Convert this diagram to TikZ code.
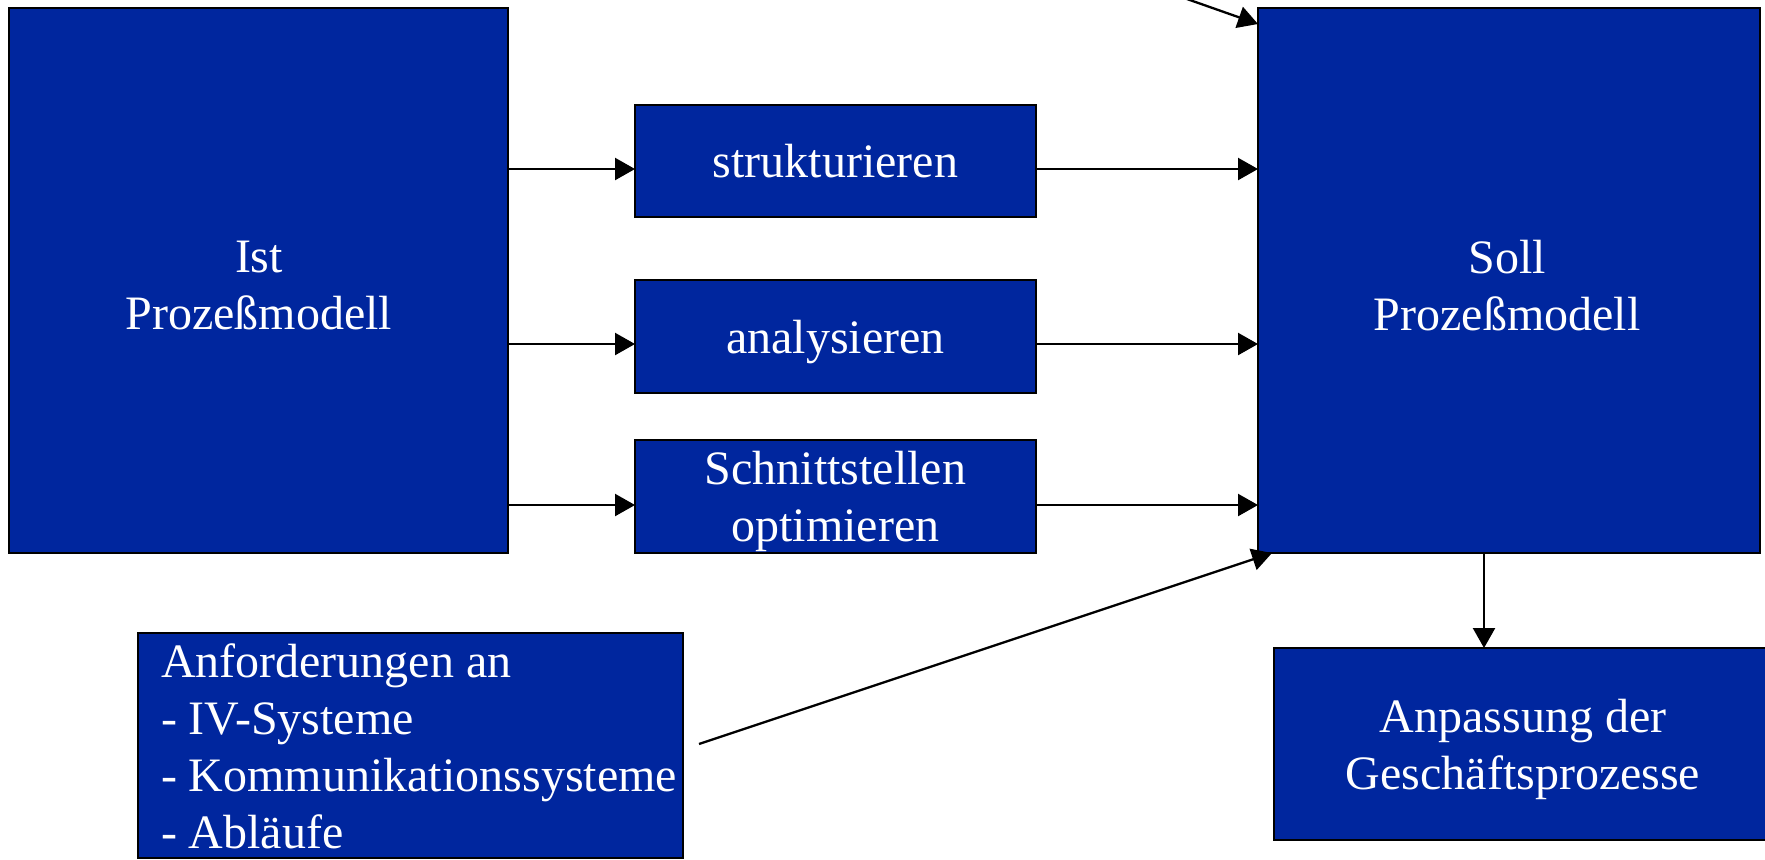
\documentclass[tikz,border=0pt]{standalone}
\usepackage{fontspec}
\setmainfont{Liberation Serif}
\usetikzlibrary{arrows.meta,calc}
\definecolor{boxblue}{RGB}{0,38,158}
\begin{document}
\begin{tikzpicture}[x=0.5pt,y=-0.5pt,
  box/.style={draw=black,line width=1.1pt,fill=boxblue,text=white,
    font=\fontsize{24}{28.5}\selectfont,inner sep=0pt,outer sep=0pt,
    align=center,anchor=north west,text depth=0pt},
  lbl/.style={text=white,font=\fontsize{24}{28.5}\selectfont,inner sep=0pt,outer sep=0pt},
  arr/.style={line width=1.15pt,-{Triangle[length=10pt,width=11pt]}}]
\useasboundingbox (0,0) rectangle (1765,859);
\clip (0,0) rectangle (1765,859);
% boxes
\node[box,minimum width=249.5pt,minimum height=272.5pt] (ist) at (9,8) {};
\node[lbl,align=center] (isttext) at (259,286) {Ist\\Prozeßmodell};
\node[box,minimum width=251pt,minimum height=272.5pt] (soll) at (1258,8) {};
\node[lbl,align=center] (solltext) at (1507,286) {Soll\\Prozeßmodell};
\node[box,minimum width=200.5pt,minimum height=56pt] (struct) at (635,105) {strukturieren};
\node[box,minimum width=200.5pt,minimum height=56.5pt] (anal) at (635,280) {analysieren};
\node[box,minimum width=200.5pt,minimum height=56.5pt] (schn) at (635,440) {Schnittstellen\\optimieren};
\node[box,minimum width=272.5pt,minimum height=112.5pt] (anf) at (138,633) {};
\node[lbl,align=left,anchor=north west] (anftext) at (161,644)
  {Anforderungen an\\- IV-Systeme\\- Kommunikationssysteme\\- Abläufe};
\node[box,minimum width=249pt,minimum height=96pt] (anp) at (1274,648) {Anpassung der\\Geschäftsprozesse};
% helper coordinates
\coordinate (r1) at (0,169);
\coordinate (r2) at (0,344);
\coordinate (r3) at (0,505);
\coordinate (cx) at (1484,0);
\coordinate (topstart) at (1133,-20);
\coordinate (anfstart) at (699,744);
% connectors
\draw[arr] (ist.east |- r1) -- (struct.west |- r1);
\draw[arr] (ist.east |- r2) -- (anal.west |- r2);
\draw[arr] (ist.east |- r3) -- (schn.west |- r3);
\draw[arr] (struct.east |- r1) -- (soll.west |- r1);
\draw[arr] (anal.east |- r2) -- (soll.west |- r2);
\draw[arr] (schn.east |- r3) -- (soll.west |- r3);
\draw[arr] (soll.south -| cx) -- (anp.north -| cx);
\draw[arr] (topstart) -- ($(soll.north west)+(0,16)$);
\draw[arr] (anfstart) -- ($(soll.south west)+(14,0)$);
\end{tikzpicture}
\end{document}
